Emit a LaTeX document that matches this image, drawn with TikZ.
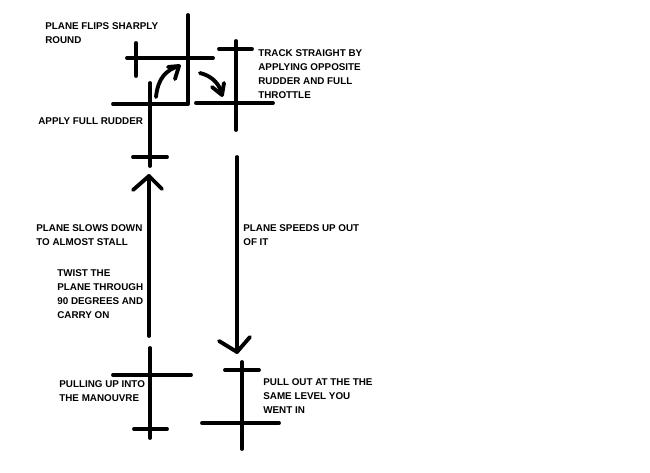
\documentclass[tikz,border=0pt]{standalone}
\usepackage{fontspec}
\setmainfont{Liberation Sans}
\tikzset{
  pen/.style={line width=2.2pt, line cap=round, line join=round},
  note/.style={anchor=west, align=left, inner sep=0pt,
    font=\fontsize{5.6}{7.9}\selectfont\bfseries}
}
\begin{document}
\begin{tikzpicture}[x=0.02cm, y=-0.02cm]

\useasboundingbox (0,0) rectangle (650,473);

% turn at the top
\draw[pen] (188,15) -- (188,103);
\draw[pen] (127,58) -- (213,58);
\draw[pen] (136,43) -- (136,76);
\draw[pen] (113,104) -- (188,104);
\draw[pen] (150,83) -- (150,166);
\draw[pen] (133,157) -- (167,157);

\draw[pen] (196,103) -- (273,103);
\draw[pen] (236,41) -- (236,130);
\draw[pen] (219,49) -- (252,49);

% flip arrows
\coordinate (flipA) at (156,97);
\coordinate (flipB) at (179,66);
\draw[pen] (flipA) .. controls (158,78) and (166,70) .. (flipB);
\draw[pen] (168,67) -- (flipB) -- (175,79);

\coordinate (trackA) at (200,73);
\coordinate (trackB) at (222,95);
\draw[pen] (trackA) .. controls (212,76) and (220,84) .. (trackB);
\draw[pen] (212,87) -- (trackB) -- (224,83);

% climb
\coordinate (climbA) at (149,336);
\coordinate (climbB) at (149,176);
\draw[pen] (climbA) -- (climbB);
\draw[pen] (133,190) -- (climbB) -- (162,189);

% dive
\coordinate (diveA) at (237,157);
\coordinate (diveB) at (237,352);
\draw[pen] (diveA) -- (diveB);
\draw[pen] (219,341) -- (diveB) -- (250,337);

% entry
\draw[pen] (150,348) -- (150,438);
\draw[pen] (113,375) -- (191,375);
\draw[pen] (134,429) -- (167,429);

% exit
\draw[pen] (242,362) -- (242,449);
\draw[pen] (225,370) -- (259,370);
\draw[pen] (202,423) -- (279,423);

% notes
\node[note] (flips) at (45,33) {PLANE FLIPS SHARPLY\\ROUND};
\node[note] (track) at (258,74) {TRACK STRAIGHT BY\\APPLYING OPPOSITE\\RUDDER AND FULL\\THROTTLE};
\node[note] (rudder) at (38,121) {APPLY FULL RUDDER};
\node[note] (slows) at (36,235) {PLANE SLOWS DOWN\\TO ALMOST STALL};
\node[note] (twist) at (57,294) {TWIST THE\\PLANE THROUGH\\90 DEGREES AND\\CARRY ON};
\node[note] (speeds) at (243,235) {PLANE SPEEDS UP OUT\\OF IT};
\node[note] (pulling) at (59,391) {PULLING UP INTO\\THE MANOUVRE};
\node[note] (pullout) at (263,396) {PULL OUT AT THE THE\\SAME LEVEL YOU\\WENT IN};

\end{tikzpicture}
\end{document}
